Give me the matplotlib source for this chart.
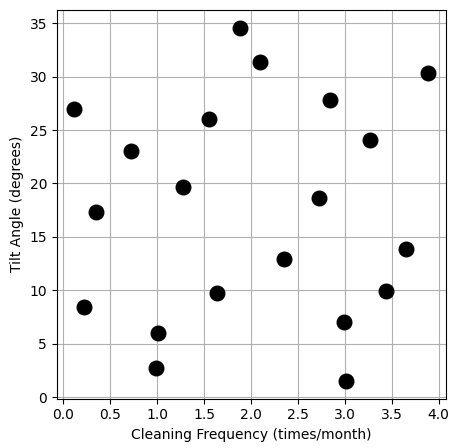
import matplotlib
matplotlib.use("Agg")
import matplotlib.pyplot as plt

cleaning_freq = [0.12, 0.22, 0.35, 0.72, 0.99, 1.01, 1.28, 1.55, 1.64, 1.88,
                 2.10, 2.35, 2.72, 2.84, 2.99, 3.01, 3.27, 3.44, 3.65, 3.89]
tilt_angle = [27.0, 8.4, 17.3, 23.0, 2.7, 6.0, 19.7, 26.0, 9.7, 34.6,
              31.4, 12.9, 18.6, 27.8, 7.0, 1.5, 24.1, 9.9, 13.9, 30.3]

fig, ax = plt.subplots(figsize=(4.58, 4.48), dpi=100)
ax.scatter(cleaning_freq, tilt_angle, s=110, color='black', zorder=3)
ax.set_xlabel('Cleaning Frequency (times/month)')
ax.set_ylabel('Tilt Angle (degrees)')
ax.grid(True)
fig.subplots_adjust(left=0.124, right=0.974, top=0.978, bottom=0.11)
plt.savefig('out.png')
